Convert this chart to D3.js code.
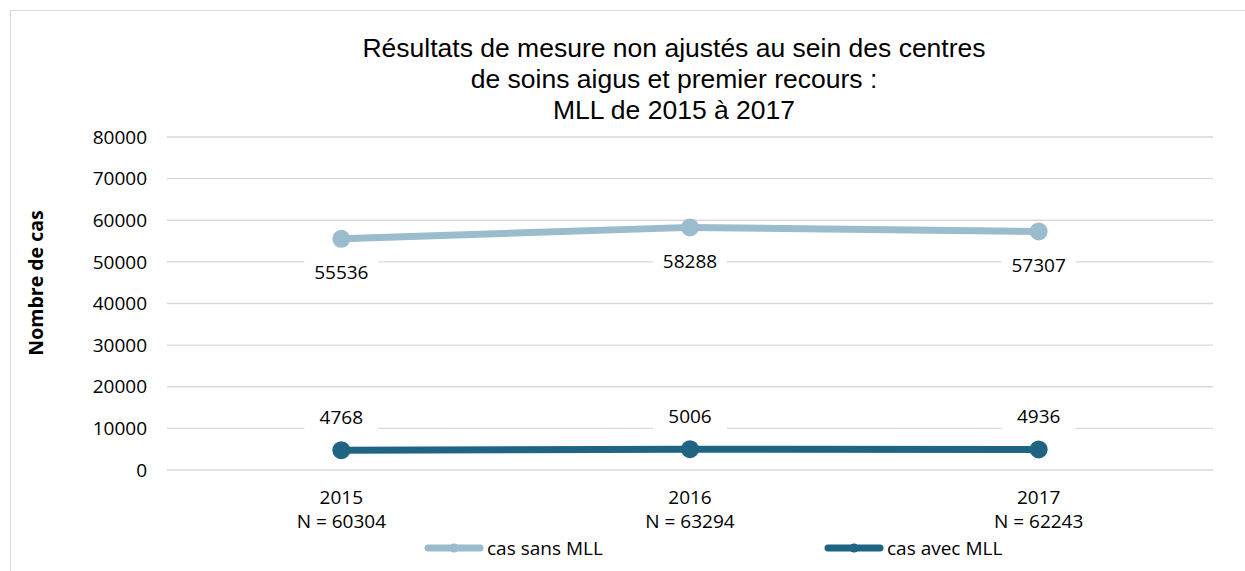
<!DOCTYPE html>
<html><head><meta charset="utf-8">
<script src="https://cdn.jsdelivr.net/npm/d3@7"></script>
<style>body{margin:0;background:#fff}svg{display:block;font-family:"Open Sans","Noto Sans",sans-serif}</style>
</head><body><svg id="c" width="1245" height="571"></svg>
<script>
const categories = ["2015","2016","2017"];
const nLabels = ["N = 60304","N = 63294","N = 62243"];
const sansMLL = [55536,58288,57307];
const avecMLL = [4768,5006,4936];
const seriesNames = ["cas sans MLL","cas avec MLL"];
const yTicks = [0,10000,20000,30000,40000,50000,60000,70000,80000];
const titleLines = ["Résultats de mesure non ajustés au sein des centres","de soins aigus et premier recours :","MLL de 2015 à 2017"];

const svg = d3.select("#c");
const colors = ["#9BBCCC","#1F6482"];
const FS = 19;
svg.append("rect").attr("x",10.5).attr("y",10.5).attr("width",1240).attr("height",570).attr("fill","none").attr("stroke","#d9d9d9");

const x = d3.scaleBand().domain(categories).range([167,1213]);
const y = d3.scaleLinear().domain([0,80000]).range([470,137]);
const cx = d => x(d)+x.bandwidth()/2;

const g = svg.append("g");
g.selectAll("line.grid").data(yTicks).join("line").attr("class","grid")
 .attr("x1",167).attr("x2",1213).attr("y1",d=>y(d)).attr("y2",d=>y(d))
 .attr("stroke","#d9d9d9").attr("stroke-width",1.3);
g.selectAll("text.yt").data(yTicks).join("text").attr("class","yt")
 .attr("x",147).attr("y",d=>y(d)).attr("dy","0.35em").attr("text-anchor","end")
 .attr("font-size",FS).attr("fill","#000").text(d=>d);

svg.append("text").attr("transform","translate(43,283) rotate(-90)").attr("text-anchor","middle")
 .attr("font-size",19.5).attr("font-weight","bold").text("Nombre de cas");

svg.selectAll("text.title").data(titleLines).join("text").attr("class","title")
 .attr("x",674).attr("y",(d,i)=>57+i*31).attr("text-anchor","middle")
 .style("font-family","'Liberation Sans',Arial,sans-serif").attr("font-size",26.5).text(d=>d);

// x labels
categories.forEach((c,i)=>{
  svg.append("text").attr("x",cx(c)).attr("y",497).attr("dy","0.35em").attr("text-anchor","middle").attr("font-size",FS).text(c);
  svg.append("text").attr("x",cx(c)).attr("y",521).attr("dy","0.35em").attr("text-anchor","middle").attr("font-size",FS).text(nLabels[i]);
});

const line = d3.line().x((d,i)=>cx(categories[i])).y(d=>y(d));
[sansMLL,avecMLL].forEach((s,k)=>{
  svg.append("path").datum(s).attr("d",line).attr("fill","none").attr("stroke",colors[k]).attr("stroke-width",7);
  svg.selectAll(null).data(s).join("circle").attr("cx",(d,i)=>cx(categories[i])).attr("cy",d=>y(d)).attr("r",9).attr("fill",colors[k]);
  const off = k===0 ? 34 : -33;
  s.forEach((v,i)=>{
    const tx = cx(categories[i]), ty = y(v)+off;
    svg.append("rect").attr("x",tx-37).attr("y",ty-13).attr("width",74).attr("height",26).attr("fill","#fff");
    svg.append("text").attr("x",tx).attr("y",ty).attr("dy","0.35em").attr("text-anchor","middle").attr("font-size",FS).text(v);
  });
});

// legend
const legX = [425,825];
seriesNames.forEach((n,k)=>{
  svg.append("line").attr("x1",legX[k]+3).attr("x2",legX[k]+55).attr("y1",548).attr("y2",548).attr("stroke",colors[k]).attr("stroke-width",7).attr("stroke-linecap","round");
  svg.append("circle").attr("cx",legX[k]+29).attr("cy",548).attr("r",4.5).attr("fill",colors[k]);
  svg.append("text").attr("x",legX[k]+62).attr("y",548).attr("dy","0.35em").attr("font-size",FS).text(n);
});
</script></body></html>
